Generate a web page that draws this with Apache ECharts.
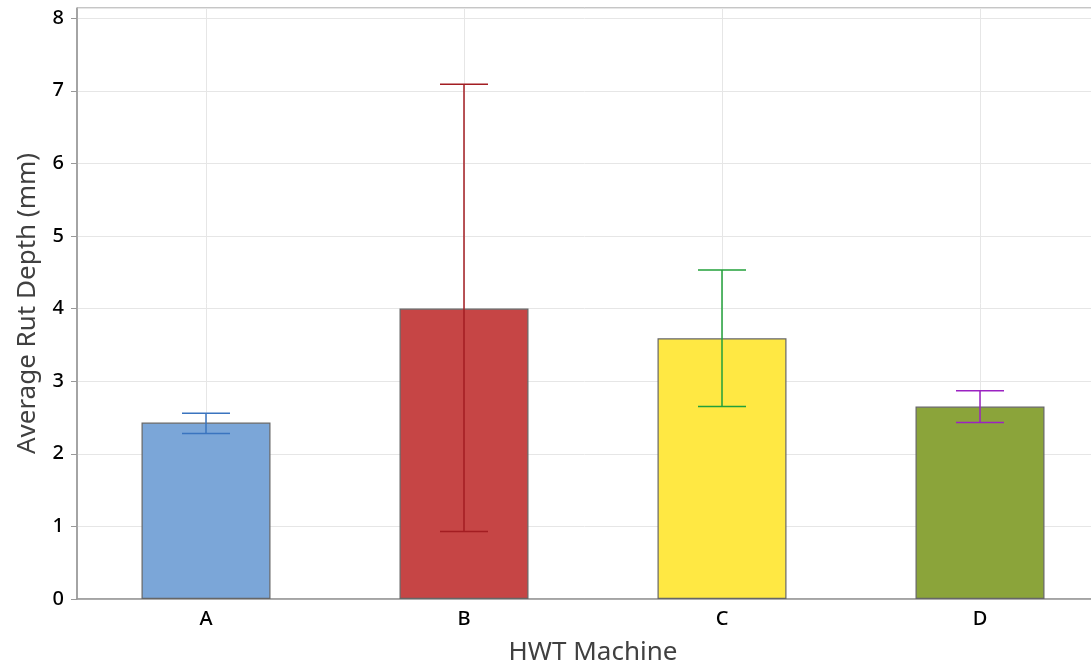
<!DOCTYPE html>
<html>
<head>
<meta charset="utf-8">
<script src="https://cdn.jsdelivr.net/npm/echarts@6/dist/echarts.min.js"></script>
<style>html,body{margin:0;padding:0;background:#fff}#c{width:1091px;height:668px}</style>
</head>
<body>
<div id="c"></div>
<script>
const categories = ['A', 'B', 'C', 'D'];
const means = [2.43, 4.00, 3.59, 2.65];
const lows = [2.28, 0.93, 2.65, 2.43];
const highs = [2.56, 7.09, 4.53, 2.87];
const barColors = ['#7ba6d8', '#c64545', '#ffe843', '#8ba43a'];
const errColors = ['#3a74bf', '#a31d22', '#22a03a', '#9b22c2'];
const yTicks = [0, 1, 2, 3, 4, 5, 6, 7, 8];

const chart = echarts.init(document.getElementById('c'), null, {renderer: 'canvas'});
const font = '"Noto Sans", "Open Sans", sans-serif';

chart.setOption({
  animation: false,
  backgroundColor: '#fff',
  grid: {left: 77, top: 8, width: 1032, height: 591, outerBoundsMode: 'none', containLabel: false,
    show: true, borderColor: '#8c8c8c', borderWidth: 1},
  xAxis: {
    type: 'category',
    data: categories,
    name: 'HWT Machine',
    nameLocation: 'middle',
    nameGap: 41,
    nameTextStyle: {fontFamily: font, fontSize: 26, color: '#404040'},
    axisLine: {lineStyle: {color: '#999', width: 1.5}},
    axisTick: {alignWithLabel: true, length: 6, lineStyle: {color: '#999'}},
    axisLabel: {fontFamily: font, fontSize: 20, color: '#000', margin: 10, fontWeight: 500},
    splitLine: {show: false}
  },
  yAxis: {
    type: 'value',
    min: 0,
    max: 8.14,
    interval: 1,
    name: 'Average Rut Depth (mm)',
    nameLocation: 'middle',
    nameGap: 36,
    nameTextStyle: {fontFamily: font, fontSize: 26, color: '#404040'},
    axisLine: {show: true, lineStyle: {color: '#999', width: 1.5}},
    axisTick: {show: true, length: 6, lineStyle: {color: '#999'}},
    axisLabel: {fontFamily: font, fontSize: 20, color: '#000', margin: 13, showMaxLabel: false, fontWeight: 500,
      formatter: v => (yTicks.indexOf(v) >= 0 ? String(v) : '')},
    splitLine: {lineStyle: {color: '#e6e6e6', width: 1}}
  },
  series: [
    {
      type: 'line',
      data: [],
      z: 0,
      silent: true,
      markLine: {
        z: 0,
        silent: true,
        symbol: 'none',
        animation: false,
        label: {show: false},
        lineStyle: {color: '#e6e6e6', width: 1, type: 'solid'},
        data: categories.map(c => ({xAxis: c}))
      }
    },
    {
      type: 'bar',
      z: 2,
      barWidth: '50%',
      data: means.map((v, i) => ({value: v, itemStyle: {color: barColors[i]}})),
      itemStyle: {borderColor: '#666', borderWidth: 1.2}
    },
    {
      type: 'custom',
      z: 3,
      data: categories.map((c, i) => [i, lows[i], highs[i]]),
      renderItem: function (params, api) {
        const i = api.value(0);
        const lo = api.coord([i, api.value(1)]);
        const hi = api.coord([i, api.value(2)]);
        const half = 24;
        const col = errColors[params.dataIndex];
        const st = {stroke: col, lineWidth: 1.5};
        return {
          type: 'group',
          children: [
            {type: 'line', shape: {x1: lo[0], y1: lo[1], x2: hi[0], y2: hi[1]}, style: st},
            {type: 'line', shape: {x1: hi[0] - half, y1: hi[1], x2: hi[0] + half, y2: hi[1]}, style: st},
            {type: 'line', shape: {x1: lo[0] - half, y1: lo[1], x2: lo[0] + half, y2: lo[1]}, style: st}
          ]
        };
      }
    }
  ]
});
</script>
</body>
</html>
